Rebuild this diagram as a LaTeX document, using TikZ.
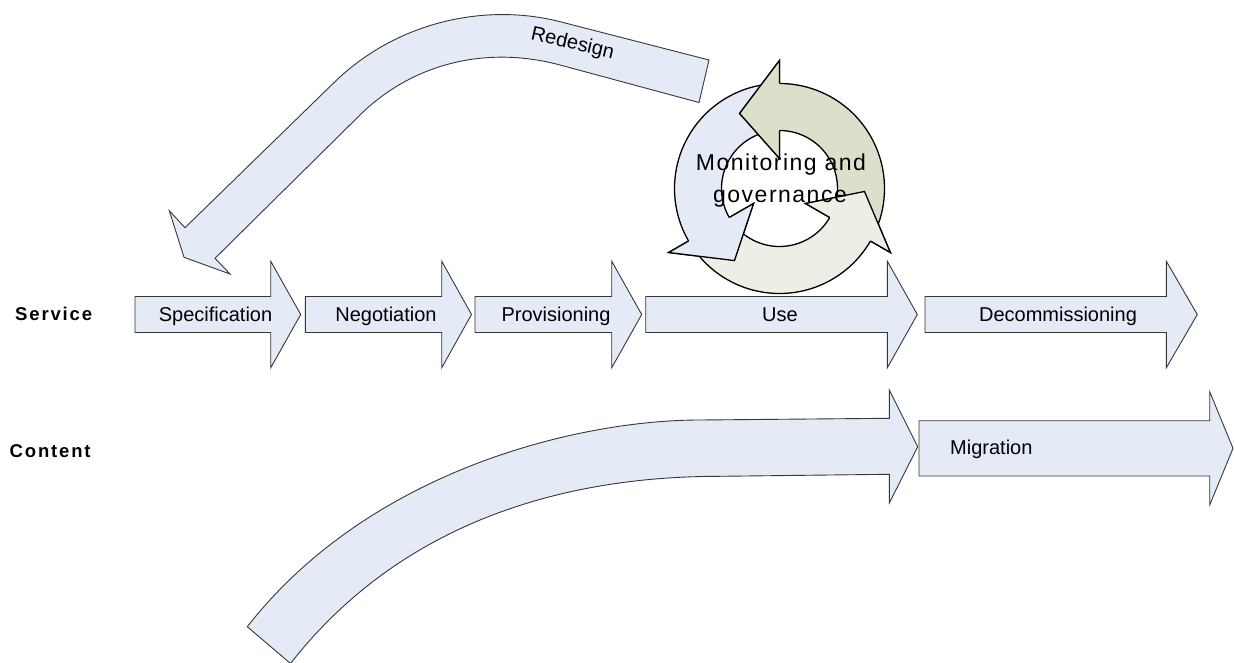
\documentclass[tikz,border=0pt]{standalone}
\usepackage{fontspec}
\setmainfont{Liberation Sans}
\newfontfamily\rowfont[LetterSpace=10]{Liberation Sans}
\newfontfamily\cyclefont[LetterSpace=6.5]{Liberation Sans}

\definecolor{stagefill}{RGB}{228,235,247}
\definecolor{stageline}{RGB}{55,55,55}
\definecolor{cycblue}{RGB}{228,235,247}
\definecolor{cycgreen}{RGB}{220,224,203}
\definecolor{cycgray}{RGB}{237,238,229}

\tikzset{
  stagearrow/.style={draw=stageline, fill=stagefill, line width=0.9pt, line join=miter},
  stagelabel/.style={font=\fontsize{20}{24}\selectfont, inner sep=0pt, anchor=base},
  rowlabel/.style={font=\rowfont\bfseries\fontsize{18.5}{22}\selectfont, inner sep=0pt, anchor=base west},
  cycline/.style={draw=black, line width=1.3pt, line join=miter},
  cycletext/.style={font=\cyclefont\fontsize{23}{27}\selectfont, inner sep=0pt, anchor=base},
}

% straight stage arrow: left end, head base, tip, centre line
\newcommand\stagearrow[4]{%
  \draw[stagearrow] (#1,#4-18) -- (#2,#4-18) -- (#2,#4-53.3) -- (#3,#4)
    -- (#2,#4+53.3) -- (#2,#4+18) -- (#1,#4+18) -- cycle;}

\begin{document}
\begin{tikzpicture}[x=1pt,y=-1pt]
\useasboundingbox (0,0) rectangle (1234,663);
\fill[white] (0,0) rectangle (1234,663);
\begin{scope}
\clip (0,0) rectangle (1234,663);

% ---- row labels
\node[rowlabel] (service) at (15,320.7) {Service};
\node[rowlabel] (content) at (9.5,457.3) {Content};

% ---- service life cycle
\stagearrow{135}{270.7}{300.7}{314.5}
\stagearrow{305.3}{441.7}{471.5}{314.5}
\stagearrow{475}{611.7}{641.7}{314.5}
\stagearrow{645.7}{887.3}{917.3}{314.5}
\stagearrow{925}{1166.3}{1197.3}{314.5}
\node[stagelabel] (spec) at (215.5,321.3) {Specification};
\node[stagelabel] (nego) at (386,321.3) {Negotiation};
\node[stagelabel] (prov) at (556,321.3) {Provisioning};
\node[stagelabel] (use)  at (780,321.3) {Use};
\node[stagelabel] (decom) at (1058,321.3) {Decommissioning};

% ---- content: long curved arrow and migration
\draw[stagearrow] (247.3,626.7) .. controls (370.5,469.1) and (580,420) .. (700,420)
  -- (889.3,418.3) -- (889.3,390) -- (917.7,446.7) -- (889.3,503) -- (889.3,474.3)
  -- (720,476.3) .. controls (610,476.3) and (419.9,498) .. (290.5,663.5) -- cycle;
\draw[stagearrow] (919,420.7) -- (1209.7,420.7) -- (1209.7,391.7) -- (1233,448.3)
  -- (1209.7,505) -- (1209.7,476) -- (919,476) -- cycle;
\node[stagelabel, anchor=base west] (migr) at (950,454.5) {Migration};

% ---- redesign loop back to specification
\draw[stagearrow] (709,60) -- (560,21.7)
  .. controls (487.3,3.0) and (397.4,20.2) .. (333.3,83.3)
  -- (185,227.7) -- (169.3,210.7) -- (184,257.3) -- (230,274) -- (215,258.3)
  -- (360,115) .. controls (413.3,62.5) and (487.5,45.5) .. (560,65)
  -- (699,102.5) -- cycle;
\node[font=\fontsize{20}{24}\selectfont, inner sep=0pt, rotate=-13] (redesign)
  at (572.5,44.2) {Redesign};

% ---- monitoring cycle: three circular arrows
\coordinate (cyc) at (779.5,188.5);
\begin{scope}[shift={(cyc)}, y=1pt]
  \foreach \b/\c in {210/cycblue,330/cycgray,90/cycgreen}{
    \pgfmathsetmacro\t{\b-115}
    \draw[cycline, fill=\c] (\t:105) arc[start angle=\t, end angle=\b, radius=105]
      -- (\b:128) -- (\b+28:85) -- (\b:30) -- (\b:58)
      arc[start angle=\b, end angle=\t, radius=58] -- cycle;
  }
  % heads lie over the tail of the following arrow
  \foreach \b/\c in {210/cycblue,330/cycgray,90/cycgreen}{
    \fill[\c] (\b:128) -- (\b+28:85) -- (\b:30) -- cycle;
    \draw[cycline] (\b:105) -- (\b:128) -- (\b+28:85) -- (\b:30) -- (\b:58);
  }
\end{scope}
\node[cycletext] (mon) at (781,171) {Monitoring and};
\node[cycletext] (gov) at (780,202.7) {governance};
\end{scope}
\end{tikzpicture}
\end{document}
